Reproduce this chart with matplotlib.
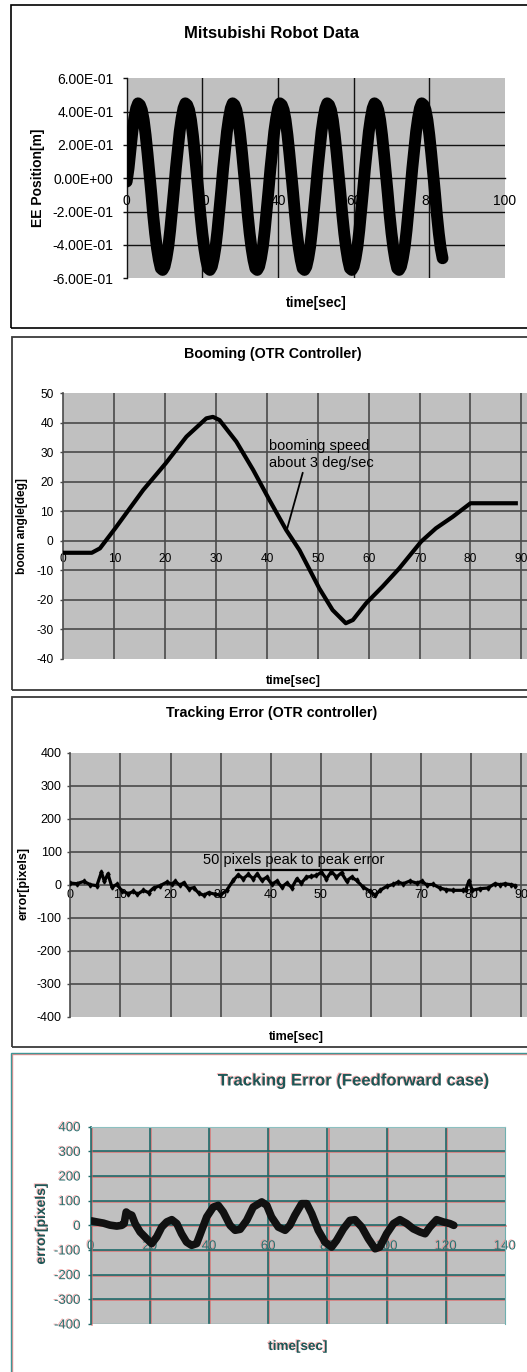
import matplotlib
matplotlib.use("Agg")
import matplotlib.pyplot as plt
import matplotlib.patheffects as pe
from matplotlib.patches import Rectangle

plt.rcParams['font.family'] = ['Liberation Sans', 'DejaVu Sans']

W, H = 527, 1372

# end effector position of the mitsubishi arm, sampled every half second
robot_time = [i * 0.5 for i in range(168)]
robot_pos = [-0.02, 0.06, 0.17, 0.28, 0.36, 0.42, 0.45, 0.44, 0.41, 0.35, 0.26, 0.15,
             0.03, -0.09, -0.22, -0.33, -0.42, -0.49, -0.54, -0.55, -0.53, -0.48,
             -0.41, -0.31, -0.19,
             -0.07, 0.06, 0.17, 0.28, 0.36, 0.42, 0.45, 0.44, 0.41, 0.35, 0.26, 0.15,
             0.03, -0.09, -0.22, -0.33, -0.42, -0.49, -0.54, -0.55, -0.53, -0.48,
             -0.41, -0.31, -0.19,
             -0.07, 0.06, 0.17, 0.28, 0.36, 0.42, 0.45, 0.44, 0.41, 0.35, 0.26, 0.15,
             0.03, -0.09, -0.22, -0.33, -0.42, -0.49, -0.54, -0.55, -0.53, -0.48,
             -0.41, -0.31, -0.19,
             -0.07, 0.06, 0.17, 0.28, 0.36, 0.42, 0.45, 0.44, 0.41, 0.35, 0.26, 0.15,
             0.03, -0.09, -0.22, -0.33, -0.42, -0.49, -0.54, -0.55, -0.53, -0.48,
             -0.41, -0.31, -0.19,
             -0.07, 0.06, 0.17, 0.28, 0.36, 0.42, 0.45, 0.44, 0.41, 0.35, 0.26, 0.15,
             0.03, -0.09, -0.22, -0.33, -0.42, -0.49, -0.54, -0.55, -0.53, -0.48,
             -0.41, -0.31, -0.19,
             -0.07, 0.06, 0.17, 0.28, 0.36, 0.42, 0.45, 0.44, 0.41, 0.35, 0.26, 0.15,
             0.03, -0.09, -0.22, -0.33, -0.42, -0.49, -0.54, -0.55, -0.53, -0.48,
             -0.41, -0.31, -0.19,
             -0.07, 0.06, 0.17, 0.28, 0.36, 0.42, 0.45, 0.44, 0.41, 0.35, 0.26, 0.15,
             0.03, -0.09, -0.22, -0.33, -0.42, -0.48]
robot_xticks = [0, 20, 40, 60, 80, 100]
robot_yticks = [-0.6, -0.4, -0.2, 0.0, 0.2, 0.4, 0.6]
robot_yticklabels = ["-6.00E-01", "-4.00E-01", "-2.00E-01", "0.00E+00",
                     "2.00E-01", "4.00E-01", "6.00E-01"]

# boom angle under the OTR controller
boom_time = [0, 5.6, 7.2, 10.2, 15.7, 20.1, 24.2, 28.1, 29.4, 30.7, 34, 37.3,
             40.5, 43.8, 46.4, 50.3, 52.9, 55.5, 56.9, 59.5, 62.7, 66, 70.3,
             73.2, 76.5, 80, 88.9]
boom_angle = [-4.1, -4.1, -2.6, 4.2, 17.2, 26.2, 35.3, 41.5, 42, 40.9, 33.6, 24,
              13.8, 3.6, -3.2, -16.2, -23.5, -28, -26.9, -21.2, -15.6, -9.4,
              -0.3, 4.2, 8.1, 12.7, 12.7]
boom_xticks = [0, 10, 20, 30, 40, 50, 60, 70, 80, 90, 100]
boom_yticks = [-40, -30, -20, -10, 0, 10, 20, 30, 40, 50]
boom_note = "booming speed\nabout 3 deg/sec"
boom_note_xy = (43.9, 3.6)
boom_note_text = (40.4, 29.3)

# tracking error, OTR controller
otr_time = [0, 1.3, 2.7, 4, 5.3, 6.2, 6.8, 7.5, 8.3, 9.3, 10.3, 11.6, 12.6, 13.4,
            14.6, 15.6, 16.6, 17.9, 19.3, 20.3, 20.9, 21.9, 22.6, 23.6, 24.6,
            25.6, 26.6, 27.6, 28.9, 29.9, 31.2, 32.5, 33.5, 34.5, 35.5, 36.5,
            37.3, 38.2, 39.2, 40.2, 41.2, 42.2, 43.2, 44.2, 45.2, 46.1, 47.1,
            48.1, 49.1, 50.1, 51.1, 52.1, 53.1, 54.1, 55.1, 56.1, 57.1, 58.4,
            59.8, 60.8, 61.8, 63.1, 64.4, 65.4, 66.4, 67.7, 69.1, 70.1, 71.1,
            72.4, 73.7, 75, 76.4, 78.4, 78.9, 79.5, 80.2, 81.7, 83.3, 84.7,
            85.7, 86.7, 88, 88.8]
otr_error = [5, 3, 10, 0, -3, 38, 10, 33, -7, 1, -19, -27, -20, -29, -17, -24,
             -10, -3, 8, 1, 10, -2, 6, -12, -9, -25, -32, -24, -29, -32, -17, 13,
             30, 18, 31, 18, 33, 13, 23, 1, 11, -7, 5, -9, 18, 5, 23, 25, 28, 38,
             18, 40, 23, 36, 11, 23, 13, -7, -20, -32, -17, -5, 1, 8, 3, 11, 5,
             10, 0, 1, -10, -15, -17, -17, -15, 11, -17, -12, -10, 3, 0, 3, 0, -3]
otr_xticks = [0, 10, 20, 30, 40, 50, 60, 70, 80, 90, 100]
otr_yticks = [-400, -300, -200, -100, 0, 100, 200, 300, 400]
otr_note = "50 pixels peak to peak error"
otr_note_pos = (44.5, 76)
otr_span = [33.1, 57.1]
otr_span_level = 43.5

# tracking error, feedforward case
ff_time = [0.3, 2, 4.3, 6.5, 8.8, 10.5, 11.3, 12, 12.7, 13.9, 15, 16.7, 18.9,
           20.6, 22.3, 24, 25.7, 27.4, 29.1, 30.7, 32.4, 34.1, 35.8, 37.5, 39.2,
           41.4, 43.1, 44.8, 47.1, 48.8, 50.5, 52.7, 54.9, 57.8, 59.5, 61.1,
           63.4, 65.7, 67.3, 69, 71.3, 73, 74.7, 76.9, 79.2, 81.4, 83.1, 85.4,
           87.6, 89.3, 91.6, 93.8, 96.1, 97.7, 100, 102.3, 104.5, 106.8, 109,
           111.3, 113, 114.6, 116.9, 119.1, 121.4, 122.7]
ff_error = [18, 14, 9, 1, -3, 0, 7, 54, 47, 41, 7, -27, -54, -74, -47, -7, 14, 23,
            7, -34, -68, -81, -74, -20, 34, 74, 81, 54, 0, -20, -16, 20, 74, 95,
            81, 34, -7, -20, 0, 41, 88, 88, 47, -20, -68, -88, -61, -14, 20, 23,
            -7, -54, -95, -88, -34, 7, 23, 7, -14, -27, -34, -7, 23, 14, 7, 0]
ff_xticks = [0, 20, 40, 60, 80, 100, 120, 140]
ff_yticks = [-400, -300, -200, -100, 0, 100, 200, 300, 400]

TEAL = '#1f6a6a'
TEAL_TEXT = '#1d5656'
GHOST_TEXT = [pe.withSimplePatchShadow(offset=(-0.8, 0.6), shadow_rgbFace='#f07a7a', alpha=0.6)]
GHOST_LINE = [pe.SimpleLineShadow(offset=(0.8, -0.6), shadow_color='#e06060', alpha=0.7), pe.Normal()]


###############################################################################
def figbox(x0, y0, x1, y1):
    '''pixel box (top-left origin) to figure fractions'''
    return [x0 / W, 1 - y1 / H, (x1 - x0) / W, (y1 - y0) / H]


###############################################################################
def figtext(fig, x, y, s, size, bold=True, rotation=0, color='black', effects=None):
    t = fig.text(x / W, 1 - y / H, s, ha='center', va='center', fontsize=size,
                 fontweight='bold' if bold else 'normal', rotation=rotation, color=color)
    if effects:
        t.set_path_effects(effects)
    return t


###############################################################################
def frame(fig, x0, y0, x1, y1, color, lw, effects=None):
    b = figbox(x0, y0, x1, y1)
    r = Rectangle((b[0], b[1]), b[2], b[3], transform=fig.transFigure,
                  fill=False, edgecolor=color, linewidth=lw)
    if effects:
        r.set_path_effects(effects)
    fig.add_artist(r)


###############################################################################
def setup_axes(ax, xlim, ylim, xticks, yticks, yticklabels, gridcolor, gridlw,
               fontsize, xpad, ypad, ticklen, textcolor='black', effects=None):
    ax.set_facecolor('#c0c0c0')
    ax.set_xlim(xlim)
    ax.set_ylim(ylim)
    ax.spines['top'].set_visible(False)
    ax.spines['right'].set_visible(False)
    ax.spines['bottom'].set_position(('data', 0))
    ax.spines['bottom'].set_color(gridcolor)
    ax.spines['bottom'].set_linewidth(gridlw)
    ax.spines['left'].set_color(gridcolor)
    ax.spines['left'].set_linewidth(gridlw)
    ax.set_xticks(xticks)
    ax.set_xticklabels([str(v) for v in xticks])
    ax.set_yticks(yticks)
    ax.set_yticklabels(yticklabels)
    ax.tick_params(axis='x', length=0, pad=xpad, labelsize=fontsize, labelcolor=textcolor)
    ax.tick_params(axis='y', direction='out', length=ticklen, width=1, pad=ypad,
                   labelsize=fontsize, labelcolor=textcolor, color=gridcolor)

    # interior gridlines only, the plot area edges stay plain
    for v in xticks[1:]:
        if v < xlim[1]:
            ln = ax.axvline(v, color=gridcolor, lw=gridlw, zorder=1)
            if effects:
                ln.set_path_effects(effects)
    for v in yticks[1:-1]:
        if v != 0:
            ln = ax.axhline(v, color=gridcolor, lw=gridlw, zorder=1)
            if effects:
                ln.set_path_effects(effects)
    if effects:
        ax.spines['bottom'].set_path_effects(effects)
        ax.spines['left'].set_path_effects(effects)


###############################################################################
def main():
    fig = plt.figure(figsize=(W / 100, H / 100), dpi=100)

    # -- Mitsubishi Robot Data --
    frame(fig, 11, 5, 560, 328, 'black', 1.2)
    ax1 = fig.add_axes(figbox(126.7, 78.3, 505, 278.3))
    setup_axes(ax1, (0, 100), (-0.6, 0.6), robot_xticks, robot_yticks, robot_yticklabels,
               '#111111', 1.0, 10, 11.4, 6.5, 3)
    ax1.plot(robot_time, robot_pos, color='black', lw=8.5, zorder=3,
             solid_capstyle='round', solid_joinstyle='round')
    figtext(fig, 272, 33, "Mitsubishi Robot Data", 12)
    figtext(fig, 38, 177.5, "EE Position[m]", 10, rotation=90)
    figtext(fig, 316, 303, "time[sec]", 10)

    # -- Booming (OTR Controller) --
    frame(fig, 12, 337, 560, 690, '#3a3a3a', 1.3)
    ax2 = fig.add_axes(figbox(63.3, 393.3, 572.3, 658.6))
    setup_axes(ax2, (0, 100), (-40, 50), boom_xticks, boom_yticks,
               [str(v) for v in boom_yticks], '#4a4a4a', 1.2, 8.6, 9, 4.5, 2.5)
    ax2.plot(boom_time, boom_angle, color='black', lw=3, zorder=3,
             solid_joinstyle='round')
    ax2.annotate(boom_note, xy=boom_note_xy, xytext=boom_note_text, ha='left', va='center',
                 fontsize=10.5, linespacing=1.3, zorder=4,
                 arrowprops=dict(arrowstyle='-', color='black', lw=1.3,
                                 shrinkA=0, shrinkB=0, relpos=(0.33, 0.0)))
    figtext(fig, 272.5, 354, "Booming (OTR Controller)", 10.3)
    figtext(fig, 22, 526, "boom angle[deg]", 8.6, rotation=90)
    figtext(fig, 293, 681, "time[sec]", 9)

    # -- Tracking Error (OTR controller) --
    frame(fig, 12, 697, 560, 1047, '#3a3a3a', 1.3)
    ax3 = fig.add_axes(figbox(70.3, 752.7, 571.6, 1016.7))
    setup_axes(ax3, (0, 100), (-400, 400), otr_xticks, otr_yticks,
               [str(v) for v in otr_yticks], '#4a4a4a', 1.2, 9, 3.2, 4, 2.2)
    ax3.plot(otr_time, otr_error, color='black', lw=2.3, zorder=3,
             marker='d', markersize=2.5, solid_joinstyle='round')
    ax3.plot(otr_span, [otr_span_level, otr_span_level], color='black', lw=1.6, zorder=4)
    ax3.text(otr_note_pos[0], otr_note_pos[1], otr_note, ha='center', va='center',
             fontsize=10.5, zorder=4)
    figtext(fig, 272, 713, "Tracking Error (OTR controller)", 10.3)
    figtext(fig, 24, 883, "error[pixels]", 9, rotation=90)
    figtext(fig, 296, 1037, "time[sec]", 9)

    # -- Tracking Error (Feedforward case) --
    frame(fig, 11, 1053, 560, 1400, '#3f9696', 1.0, effects=GHOST_LINE)
    ax4 = fig.add_axes(figbox(90.7, 1126.7, 505, 1324))
    setup_axes(ax4, (0, 140), (-400, 400), ff_xticks, ff_yticks,
               [str(v) for v in ff_yticks], TEAL, 1.2, 9.5, 10.9, 5, 2.2,
               textcolor='#2c7070', effects=GHOST_LINE)
    ax4.spines['right'].set_visible(True)
    ax4.spines['right'].set_color('#6fb0b0')
    ax4.spines['top'].set_visible(True)
    ax4.spines['top'].set_color('#8cc0c0')
    ax4.axhline(-400, color='#6fb0b0', lw=1.0, zorder=1)
    for lab in ax4.get_xticklabels() + ax4.get_yticklabels():
        lab.set_path_effects(GHOST_TEXT)
    ax4.plot(ff_time, ff_error, color='#111111', lw=5.5, zorder=3,
             solid_capstyle='round', solid_joinstyle='round')
    figtext(fig, 353, 1081, "Tracking Error (Feedforward case)", 12,
            color=TEAL_TEXT, effects=GHOST_TEXT)
    figtext(fig, 41, 1224, "error[pixels]", 10, rotation=90,
            color=TEAL_TEXT, effects=GHOST_TEXT)
    figtext(fig, 298, 1347, "time[sec]", 9.7, color=TEAL_TEXT, effects=GHOST_TEXT)

    fig.savefig("out.png", dpi=100)


###############################################################################
if __name__ == "__main__":
    main()
